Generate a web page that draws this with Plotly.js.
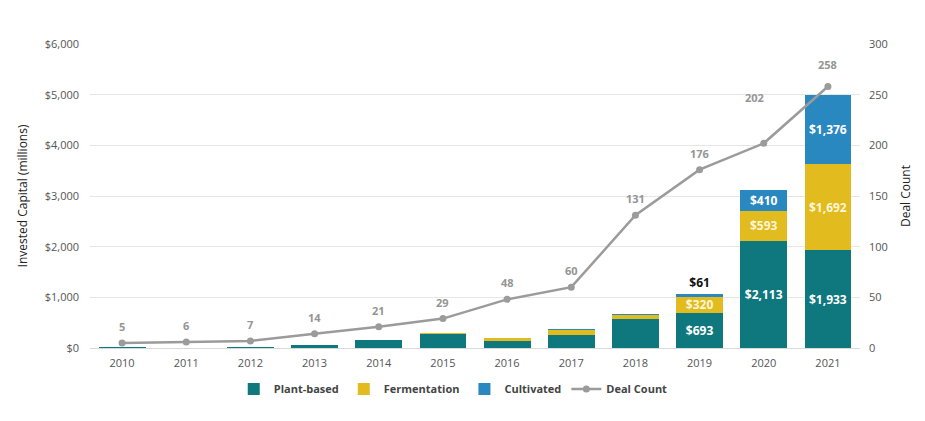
<!DOCTYPE html>
<html>
<head>
<meta charset="utf-8">
<script src="https://cdn.plot.ly/plotly-3.0.1.min.js"></script>
<style>
  html, body { margin: 0; padding: 0; background: #fff; }
  #chart { width: 925px; height: 421px; }
</style>
</head>
<body>
<div id="chart"></div>
<script>
// values (millions USD, deal count)
const years = ['2010', '2011', '2012', '2013', '2014', '2015', '2016', '2017', '2018', '2019', '2020', '2021'];
const plantBased = [20, 5, 10, 60, 150, 280, 140, 260, 580, 693, 2113, 1933];
const fermentation = [0, 0, 0, 0, 0, 10, 60, 90, 70, 320, 593, 1692];
const cultivated = [0, 0, 0, 0, 0, 0, 0, 20, 30, 61, 410, 1376];
const dealCount = [5, 6, 7, 14, 21, 29, 48, 60, 131, 176, 202, 258];
// only the last three years carry value labels
const labelledYears = ['2019', '2020', '2021'];

const fontFamily = '"Open Sans", "Noto Sans", sans-serif';

function money(v) {
    return '$' + v.toLocaleString('en-US');
}

// labels for the bar segments, blank where the chart has none
function segmentLabels(values) {
    return values.map((v, i) => labelledYears.includes(years[i]) ? money(v) : '');
}

const barFont = {family: fontFamily, size: 12, color: '#ffffff', weight: 700};

const traces = [
    {
        type: 'bar',
        name: 'Plant-based',
        x: years,
        y: plantBased,
        marker: {color: '#0f777e'},
        text: segmentLabels(plantBased),
        textposition: 'inside',
        insidetextanchor: 'middle',
        constraintext: 'none',
        textfont: barFont,
        hoverinfo: 'skip'
    },
    {
        type: 'bar',
        name: 'Fermentation',
        x: years,
        y: fermentation,
        marker: {color: '#e2bb1f'},
        text: segmentLabels(fermentation),
        textposition: 'inside',
        insidetextanchor: 'middle',
        constraintext: 'none',
        textfont: {family: fontFamily, size: 12, color: '#fdf6d8', weight: 700},
        hoverinfo: 'skip'
    },
    {
        type: 'bar',
        name: 'Cultivated',
        x: years,
        y: cultivated,
        marker: {color: '#2a88c0'},
        text: segmentLabels(cultivated),
        // 2019 slice is too thin, its label sits above the bar in black
        textposition: years.map(y => y === '2019' ? 'outside' : 'inside'),
        insidetextanchor: 'middle',
        constraintext: 'none',
        textfont: {
            family: fontFamily,
            size: 12,
            weight: 700,
            color: years.map(y => y === '2019' ? '#111111' : '#ffffff')
        },
        cliponaxis: false,
        hoverinfo: 'skip'
    },
    {
        type: 'scatter',
        name: 'Deal Count',
        x: years,
        y: dealCount,
        yaxis: 'y2',
        mode: 'lines+markers',
        line: {color: '#9b9b9b', width: 2.5},
        marker: {color: '#9b9b9b', size: 7},
        cliponaxis: false,
        hoverinfo: 'skip'
    }
];

// deal count labels above the points; 2020 and 2021 sit higher in the original
// x is the category index so the category axis does not read '2010' as a number
const dealLabels = dealCount.map((v, i) => ({
    x: i,
    y: v,
    xref: 'x',
    yref: 'y2',
    text: String(v),
    showarrow: false,
    yanchor: 'bottom',
    yshift: years[i] === '2020' ? 36 : (years[i] === '2021' ? 13 : 7),
    xshift: years[i] === '2020' ? -9 : 0,
    font: {family: fontFamily, size: 11, color: '#959595', weight: 700}
}));

const layout = {
    width: 925,
    height: 421,
    margin: {l: 90, r: 65, t: 44, b: 73},
    barmode: 'stack',
    bargap: 0.27,
    paper_bgcolor: '#ffffff',
    plot_bgcolor: '#ffffff',
    font: {family: fontFamily, size: 11, color: '#555555'},
    annotations: dealLabels,
    xaxis: {
        type: 'category',
        range: [-0.5, years.length - 0.5],
        automargin: false,
        showgrid: false,
        zeroline: false,
        showline: true,
        linecolor: '#d9d9d9',
        tickfont: {size: 11, color: '#555555'},
        ticks: '',
        ticklabelstandoff: 5
    },
    yaxis: {
        automargin: false,
        range: [0, 6000],
        tickvals: [0, 1000, 2000, 3000, 4000, 5000, 6000],
        ticktext: [0, 1000, 2000, 3000, 4000, 5000, 6000].map(money),
        showgrid: true,
        gridcolor: '#e6e6e6',
        zeroline: false,
        ticks: '',
        ticklabelstandoff: 10,
        tickfont: {size: 11, color: '#555555'},
        title: {text: 'Invested Capital (millions)', font: {size: 12, color: '#222222'}, standoff: 14}
    },
    yaxis2: {
        automargin: false,
        overlaying: 'y',
        side: 'right',
        range: [0, 300],
        tickvals: [0, 50, 100, 150, 200, 250, 300],
        showgrid: false,
        zeroline: false,
        ticks: '',
        ticklabelstandoff: 8,
        tickfont: {size: 11, color: '#555555'},
        title: {text: 'Deal Count', font: {size: 12, color: '#222222'}, standoff: 14}
    },
    showlegend: true,
    legend: {
        orientation: 'h',
        x: 0.49,
        xanchor: 'center',
        xref: 'container',
        y: 0.076,
        yanchor: 'middle',
        yref: 'container',
        font: {size: 11, color: '#444444', weight: 700},
        traceorder: 'normal'
    }
};

Plotly.newPlot('chart', traces, layout, {staticPlot: true, displayModeBar: false});
</script>
</body>
</html>
